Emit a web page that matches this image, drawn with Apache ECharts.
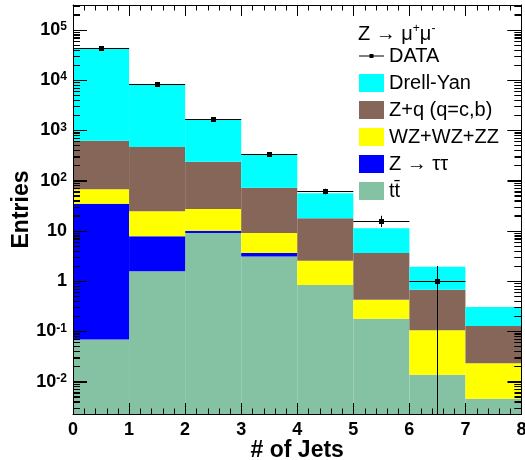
<!DOCTYPE html>
<html><head><meta charset="utf-8">
<script src="https://cdn.jsdelivr.net/npm/echarts@6/dist/echarts.min.js"></script>
<style>html,body{margin:0;padding:0;background:#fff}#c{width:525px;height:460px}</style>
</head><body><div id="c"></div>
<script>
// ---- data ----
const binEdges   = [0, 1, 2, 3, 4, 5, 6, 7, 8];
// stacked components, bottom to top
const ttbar      = [0.069, 1.56, 9.04, 3.08, 0.834, 0.178, 0.0137, 0.00456];
const zTauTau    = [34.5, 6.22, 0.96, 0.53, 0, 0, 0, 0];
const diboson    = [32.4, 16.6, 17.2, 5.43, 1.71, 0.247, 0.091, 0.0185];
const zPlusQ     = [554, 442, 210, 63, 15.2, 3.18, 0.568, 0.104];
const drellYan   = [42230, 7764, 1442, 261, 38, 7.6, 1.26, 0.178];
// data points
const dataCounts = [42850, 8230, 1680, 333, 61, 15.9, 1.0, 0];
const dataErrors = [207, 91, 41, 18, 7.8, 4, 1, 0];
// axis ticks
const xMajorTicks = [0, 1, 2, 3, 4, 5, 6, 7, 8];
const xMinorPerUnit = 5;
const yMajorTicks = [0.01, 0.1, 1, 10, 100, 1000, 10000, 100000];
const yMinorMultipliers = [2, 3, 4, 5, 6, 7, 8, 9];

const Y_MIN = 0.00226, Y_MAX = 311500;
const X_MIN = 0, X_MAX = 8;
const FONT = "'Liberation Sans', Arial, Helvetica, sans-serif";

const layers = [
  {name: 't' + 't\u0304', values: ttbar,    color: '#85c2a3'},
  {name: 'Z \u2192 \u03c4\u03c4', values: zTauTau,  color: '#0000ff'},
  {name: 'WZ+WZ+ZZ', values: diboson,  color: '#ffff00'},
  {name: 'Z+q (q=c,b)', values: zPlusQ,   color: '#87665a'},
  {name: 'Drell-Yan', values: drellYan, color: '#00ffff'}
];

const nBins = binEdges.length - 1;
const cum = new Array(nBins).fill(0);
const stackSeries = layers.map(function (L) {
  const rows = [];
  for (let i = 0; i < nBins; i++) {
    const lo = cum[i] > 0 ? cum[i] : Y_MIN;
    cum[i] += L.values[i];
    const hi = cum[i] > 0 ? cum[i] : Y_MIN;
    rows.push([binEdges[i], binEdges[i + 1], lo, hi]);
  }
  return {
    type: 'custom', name: L.name, xAxisIndex: 0, yAxisIndex: 0,
    itemStyle: {color: L.color},
    encode: {x: [0, 1], y: [2, 3]},
    data: rows,
    z: 2,
    renderItem: function (params, api) {
      const x0 = api.value(0), x1 = api.value(1), lo = api.value(2), hi = api.value(3);
      if (!(hi > lo)) return null;
      const a = api.coord([x0, hi]);
      const b = api.coord([x1, lo]);
      return {type: 'rect', shape: {x: a[0], y: a[1], width: b[0] - a[0], height: b[1] - a[1]},
              style: {fill: L.color}};
    }
  };
});

// tick values (pixel positions come from the axes' scales via api.coord)
const tickRows = [];   // [x, y, side, length]; side 0 = x ticks, 1 = y ticks
for (let i = 0; i < xMajorTicks.length; i++) {
  tickRows.push([xMajorTicks[i], Y_MIN, 0, 11]);
  if (i < xMajorTicks.length - 1) {
    const step = (xMajorTicks[i + 1] - xMajorTicks[i]) / xMinorPerUnit;
    for (let k = 1; k < xMinorPerUnit; k++) tickRows.push([xMajorTicks[i] + k * step, Y_MIN, 0, 5.5]);
  }
}
[0.001].concat(yMajorTicks).forEach(function (d) {
  if (d >= Y_MIN) tickRows.push([X_MIN, d, 1, 14]);
  yMinorMultipliers.forEach(function (m) {
    const v = d * m;
    if (v > Y_MIN && v < Y_MAX) tickRows.push([X_MIN, v, 1, 7]);
  });
});
const tickSeries = {
  type: 'custom', name: 'ticks', xAxisIndex: 0, yAxisIndex: 0, z: 20, clip: false,
  encode: {x: 0, y: 1}, data: tickRows,
  renderItem: function (params, api) {
    const side = api.value(2), len = api.value(3);
    const bl = api.coord([X_MIN, Y_MIN]);
    const tr = api.coord([X_MAX, Y_MAX]);
    const fill = {fill: '#000'};
    if (side === 0) {
      const p = api.coord([api.value(0), Y_MIN]);
      const x = Math.min(Math.max(Math.round(p[0]), Math.round(bl[0])), Math.round(tr[0]) - 1);
      return {type: 'group', children: [
        {type: 'rect', shape: {x: x, y: bl[1] - len, width: 1, height: len}, style: fill},
        {type: 'rect', shape: {x: x, y: tr[1], width: 1, height: len}, style: fill}
      ]};
    }
    const p = api.coord([X_MIN, api.value(1)]);
    const y = Math.round(p[1]);
    return {type: 'group', children: [
      {type: 'rect', shape: {x: bl[0], y: y, width: len, height: 1}, style: fill},
      {type: 'rect', shape: {x: tr[0] - len, y: y, width: len, height: 1}, style: fill}
    ]};
  }
};

const dataRows = [];
for (let i = 0; i < nBins; i++) {
  if (dataCounts[i] > 0) {
    dataRows.push([(binEdges[i] + binEdges[i + 1]) / 2, dataCounts[i],
                   (binEdges[i + 1] - binEdges[i]) / 2, dataErrors[i]]);
  }
}
const dataSeries = {
  type: 'custom', name: 'DATA', xAxisIndex: 0, yAxisIndex: 0,
  itemStyle: {color: '#000'},
  encode: {x: 0, y: 1},
  data: dataRows, z: 5,
  renderItem: function (params, api) {
    const xc = api.value(0), y = api.value(1), hw = api.value(2), e = api.value(3);
    const c = api.coord([xc, y]);
    const l = api.coord([xc - hw, y]);
    const r = api.coord([xc + hw, y]);
    const up = api.coord([xc, y + e]);
    const dn = api.coord([xc, Math.max(y - e, Y_MIN)]);
    const ls = {stroke: '#000', lineWidth: 1};
    const cx = Math.round(c[0]) + 0.5, cy = Math.round(c[1]) + 0.5;
    return {type: 'group', children: [
      {type: 'line', shape: {x1: l[0], y1: cy, x2: r[0], y2: cy}, style: ls},
      {type: 'line', shape: {x1: cx, y1: up[1], x2: cx, y2: dn[1]}, style: ls},
      {type: 'rect', shape: {x: cx - 2.5, y: cy - 2.5, width: 5, height: 5}, style: {fill: '#000'}}
    ]};
  }
};

function yLabel(v) {
  const lg = Math.log10(v);
  const e = Math.round(lg);
  if (Math.abs(lg - e) > 1e-6) return '';
  if (e === 0) return '{b|1}';
  if (e === 1) return '{b|10}';
  return '{b|10}{s|' + e + '}';
}

const black = '#000';
function xAx(pos, showLabels) {
  return {
    type: 'value', min: X_MIN, max: X_MAX, interval: 1, position: pos, z: 10,
    axisLine: {show: true, onZero: false, lineStyle: {color: black, width: 1}},
    axisTick: {show: false},
    minorTick: {show: false},
    splitLine: {show: false}, minorSplitLine: {show: false},
    axisLabel: {show: showLabels, margin: 7, fontFamily: FONT, fontSize: 18, fontWeight: 'bold', color: black},
    name: showLabels ? '# of Jets' : '', nameLocation: 'middle', nameGap: 25, nameMoveOverlap: false,
    nameTextStyle: {fontFamily: FONT, fontSize: 23, fontWeight: 'bold', color: black}
  };
}
function yAx(pos, showLabels) {
  return {
    type: 'log', logBase: 10, min: Y_MIN, max: Y_MAX, position: pos, z: 10,
    axisLine: {show: true, onZero: false, lineStyle: {color: black, width: 1}},
    axisTick: {show: true, inside: true, length: 14, lineStyle: {color: black, width: 1}},
    minorTick: {show: true, splitNumber: 9, length: 7, lineStyle: {color: black, width: 1}},
    splitLine: {show: false}, minorSplitLine: {show: false},
    axisLabel: {show: showLabels, margin: 6, color: black, formatter: yLabel,
      rich: {
        b: {fontFamily: FONT, fontSize: 18, fontWeight: 'bold', color: black, lineHeight: 18,
            padding: [4, 0, 0, 0], verticalAlign: 'bottom'},
        s: {fontFamily: FONT, fontSize: 12, fontWeight: 'bold', color: black, lineHeight: 12,
            verticalAlign: 'top'}
      }},
    name: showLabels ? 'Entries' : '', nameLocation: 'middle', nameGap: 40, nameMoveOverlap: false,
    nameTextStyle: {fontFamily: FONT, fontSize: 23, fontWeight: 'bold', color: black}
  };
}

const legendNames = ['DATA', 'Drell-Yan', 'Z+q (q=c,b)', 'WZ+WZ+ZZ', 'Z \u2192 \u03c4\u03c4', layers[0].name];
const colorOf = {};
layers.forEach(function (L) { colorOf[L.name] = L.color; });
const dataIcon = 'path://M0,0h0.01v0.01h-0.01z M24.99,17.99h0.01v0.01h-0.01z M0,8.5h25v1h-25z M10.5,7h4v4h-4z';

const option = {
  animation: false,
  backgroundColor: '#fff',
  grid: {left: 73, right: 3.5, top: 5, bottom: 46, outerBoundsMode: 'none'},
  title: {
    text: '{n|Z \u2192 \u03bc}{s|+}{n|\u03bc}{s|-}', left: 358, top: 20, padding: 0,
    textStyle: {fontWeight: 'normal', rich: {
      n: {fontFamily: FONT, fontSize: 20, fontWeight: 'normal', color: black, lineHeight: 24, verticalAlign: 'bottom'},
      s: {fontFamily: FONT, fontSize: 12, fontWeight: 'normal', color: black, lineHeight: 12, verticalAlign: 'top', padding: [3, 0, 0, 0]}
    }}
  },
  legend: {
    orient: 'vertical', left: 359, top: 46, padding: 0,
    itemWidth: 25, itemHeight: 18, itemGap: 7, selectedMode: false,
    textStyle: {fontFamily: FONT, fontSize: 20, color: black, lineHeight: 18},
    data: legendNames.map(function (n) {
      if (n === 'DATA') return {name: n, icon: dataIcon, itemStyle: {color: black}};
      return {name: n, icon: 'rect', itemStyle: {color: colorOf[n]}};
    })
  },
  xAxis: [xAx('bottom', true), xAx('top', false)],
  yAxis: [yAx('left', true), yAx('right', false)],
  series: stackSeries.concat([dataSeries, tickSeries])
};

const chart = echarts.init(document.getElementById('c'), null, {renderer: 'canvas'});
chart.setOption(option);
</script>
</body></html>
